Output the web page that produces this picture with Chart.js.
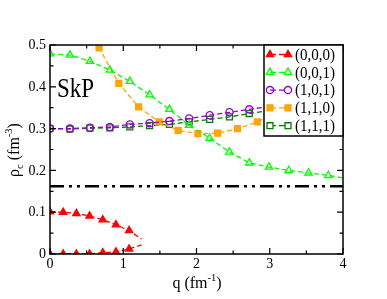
<!DOCTYPE html>
<html>
<head>
<meta charset="utf-8">
<script src="https://cdn.jsdelivr.net/npm/chart.js@4.4.1/dist/chart.umd.min.js"></script>
<style>
  html, body { margin: 0; padding: 0; background: #fff; }
  #wrap { width: 387px; height: 299px; }
</style>
</head>
<body>
<div id="wrap"><canvas id="chart" width="387" height="299"></canvas></div>
<script>
// values
const q000 = [0, 0.18, 0.36, 0.54, 0.72, 0.9, 1.08, 1.25];
const rho000Upper = [0.101, 0.1, 0.097, 0.091, 0.082, 0.07, 0.056, 0.036];
const rho000Lower = [0, 0, 0, 0, 0.003, 0.005, 0.012, 0.022];
const qGrid = [0, 0.272, 0.545, 0.817, 1.09, 1.36, 1.63, 1.9, 2.18, 2.45, 2.72, 2.99, 3.26, 3.53, 3.8, 4.07];
const rho001 = [0.479, 0.476, 0.461, 0.44, 0.413, 0.381, 0.346, 0.308, 0.277, 0.244, 0.218, 0.208, 0.2, 0.194, 0.188, 0.18];
const rho101 = [0.3, 0.3, 0.302, 0.304, 0.31, 0.313, 0.318, 0.324, 0.332, 0.339, 0.346, 0.353, 0.36];
const rho111 = [0.3, 0.299, 0.301, 0.302, 0.304, 0.307, 0.31, 0.316, 0.322, 0.328, 0.336, 0.343, 0.35];
const q110 = [0.4, 0.67, 0.94, 1.21, 1.49, 1.75, 2.02, 2.29, 2.56, 2.83, 3.1];
const rho110 = [0.6, 0.493, 0.408, 0.352, 0.316, 0.296, 0.288, 0.289, 0.3, 0.316, 0.34];
const qRange = [0, 4];
const rhoSat = 0.162;
const xTicks = [0, 1, 2, 3, 4];
const yTicks = [0, 0.1, 0.2, 0.3, 0.4, 0.5];
const yTickLabels = ['0', '0.1', '0.2', '0.3', '0.4', '0.5'];

const FONT = '"Liberation Serif", "DejaVu Serif", serif';

function pts(xs, ys) {
	return ys.map((y, i) => ({ x: xs[i], y: y }));
}

function series(label, data, color, style, filled, extra) {
	return Object.assign({
		label: label,
		data: data,
		showLine: true,
		borderColor: color,
		backgroundColor: filled ? color : '#fff',
		borderWidth: 1.3,
		borderDash: [5, 3],
		pointStyle: style,
		pointRadius: style === 'circle' ? 3.6 : 4.2,
		pointBorderWidth: 1.3,
		pointBorderColor: color,
		pointBackgroundColor: filled ? color : 'rgba(255,255,255,0)',
		tension: 0
	}, extra || {});
}

// last red point is only the end of the curve, no marker
let redRadius = q000.map((q, i) => i === q000.length - 1 ? 0 : 4.2);

let datasets = [
	series('(0,0,0)', pts(q000, rho000Upper), '#ff0000', 'triangle', true, { pointRadius: redRadius }),
	series('', pts(q000, rho000Lower), '#ff0000', 'triangle', true, { pointRadius: redRadius }),
	series('(0,0,1)', pts(qGrid, rho001), '#00ff00', 'triangle', false),
	series('(1,0,1)', pts(qGrid, rho101), '#9400d3', 'circle', false),
	series('(1,1,0)', pts(q110, rho110), '#ffa500', 'rect', true),
	series('(1,1,1)', pts(qGrid, rho111), '#008000', 'rect', false),
	{
		label: '',
		data: pts(qRange, [rhoSat, rhoSat]),
		showLine: true,
		borderColor: '#000',
		borderWidth: 2.5,
		borderDash: [14, 5, 3, 5, 3, 5],
		pointRadius: 0
	}
];

// legend entries point back at datasets
let legendItems = [0, 2, 3, 4, 5];

function richText(ctx, parts, x, y, align) {
	// parts: [text, 'n'|'sub'|'sup']
	let base = 16, small = 10.5;
	let w = 0;
	parts.forEach(p => {
		ctx.font = (p[1] === 'n' ? base : small) + 'px ' + FONT;
		w += ctx.measureText(p[0]).width;
	});
	let cx = align === 'center' ? x - w / 2 : x;
	ctx.textAlign = 'left';
	ctx.textBaseline = 'alphabetic';
	parts.forEach(p => {
		ctx.font = (p[1] === 'n' ? base : small) + 'px ' + FONT;
		let dy = p[1] === 'sub' ? 4 : (p[1] === 'sup' ? -7 : 0);
		ctx.fillText(p[0], cx, y + dy);
		cx += ctx.measureText(p[0]).width;
	});
}

const framePlugin = {
	id: 'frame',
	afterDraw(chart) {
		let ctx = chart.ctx;
		let a = chart.chartArea;
		let xs = chart.scales.x, ys = chart.scales.y;
		ctx.save();
		ctx.strokeStyle = '#000';
		ctx.lineWidth = 1.5;
		ctx.strokeRect(a.left, a.top, a.right - a.left, a.bottom - a.top);

		// inward ticks on all four sides
		ctx.lineWidth = 1.2;
		ctx.beginPath();
		for (let v = 0; v <= 4.001; v += 0.5) {
			let px = xs.getPixelForValue(v);
			let len = Math.abs(v - Math.round(v)) < 1e-6 ? 6 : 3.5;
			ctx.moveTo(px, a.bottom); ctx.lineTo(px, a.bottom - len);
			ctx.moveTo(px, a.top); ctx.lineTo(px, a.top + len);
		}
		for (let v = 0; v <= 0.5001; v += 0.05) {
			let py = ys.getPixelForValue(v);
			let len = Math.abs(v * 10 - Math.round(v * 10)) < 1e-6 ? 6 : 3.5;
			ctx.moveTo(a.left, py); ctx.lineTo(a.left + len, py);
			ctx.moveTo(a.right, py); ctx.lineTo(a.right - len, py);
		}
		ctx.stroke();

		// legend box
		let lx = 264, ly = a.top, lw = a.right - 264, lh = 91;
		ctx.fillStyle = '#fff';
		ctx.fillRect(lx, ly, lw, lh);
		ctx.lineWidth = 1.5;
		ctx.strokeRect(lx, ly, lw, lh);
		legendItems.forEach((di, i) => {
			let ds = chart.data.datasets[di];
			let cy = ly + 9.5 + i * 17.8;
			ctx.save();
			ctx.strokeStyle = ds.borderColor;
			ctx.lineWidth = ds.borderWidth;
			ctx.setLineDash([6, 3]);
			ctx.beginPath();
			ctx.moveTo(270, cy); ctx.lineTo(288, cy);
			ctx.stroke();
			ctx.restore();
			[270, 288].forEach(px => {
				ctx.save();
				ctx.strokeStyle = ds.pointBorderColor;
				ctx.fillStyle = ds.pointStyle === 'rect' && ds.backgroundColor === '#fff' ? '#fff' : ds.pointBackgroundColor;
				ctx.lineWidth = ds.pointBorderWidth;
				Chart.helpers.drawPoint(ctx, {
					pointStyle: ds.pointStyle,
					radius: ds.pointStyle === 'circle' ? 3.6 : 4.2,
					rotation: 0,
					borderWidth: ds.pointBorderWidth
				}, px, cy);
				ctx.restore();
			});
			ctx.save();
			ctx.fillStyle = '#000';
			ctx.font = '16px ' + FONT;
			ctx.textAlign = 'left';
			ctx.textBaseline = 'middle';
			ctx.setTransform(0.94, 0, 0, 1, 295, cy + 1);
			ctx.fillText(ds.label, 0, 0);
			ctx.restore();
		});

		// in-plot label, Times is a touch narrower in the original
		ctx.save();
		ctx.fillStyle = '#000';
		ctx.textAlign = 'left';
		ctx.textBaseline = 'alphabetic';
		ctx.font = '27px ' + FONT;
		ctx.setTransform(0.85, 0, 0, 1, 57, 96.5);
		ctx.fillText('SkP', 0, 0);
		ctx.restore();

		// axis titles with sub/superscripts
		ctx.fillStyle = '#000';
		richText(ctx, [['q (fm', 'n'], ['-1', 'sup'], [')', 'n']], 197, 288, 'center');
		ctx.save();
		ctx.setTransform(1, 0, 0, 1, 0, 0);
		ctx.translate(19, 150);
		ctx.rotate(-Math.PI / 2);
		richText(ctx, [['\u03c1', 'n'], ['c', 'sub'], [' (fm', 'n'], ['-3', 'sup'], [')', 'n']], 0, 0, 'center');
		ctx.restore();

		// y tick labels last, so nothing lies on top of them
		ctx.setTransform(1, 0, 0, 1, 0, 0);
		ctx.fillStyle = '#000';
		ctx.font = '14px ' + FONT;
		ctx.textAlign = 'right';
		ctx.textBaseline = 'middle';
		yTicks.forEach((v, i) => {
			ctx.fillText(yTickLabels[i], a.left - 4, ys.getPixelForValue(v) + 0.5);
		});
		ctx.restore();
	}
};

new Chart(document.getElementById('chart'), {
	type: 'scatter',
	data: { datasets: datasets },
	options: {
		responsive: false,
		animation: false,
		events: [],
		layout: { padding: { top: 45, right: 44, left: 0, bottom: 0 } },
		plugins: { legend: { display: false }, tooltip: { enabled: false } },
		scales: {
			x: {
				type: 'linear',
				min: 0,
				max: 4,
				afterBuildTicks: s => { s.ticks = xTicks.map(v => ({ value: v })); },
				afterFit: s => { s.height = 45; },
				grid: { display: false, drawTicks: false, tickLength: 0 },
				border: { display: false },
				ticks: {
					color: '#000',
					font: { family: FONT, size: 14 },
					padding: 2,
					maxRotation: 0,
					autoSkip: false,
					callback: v => String(v)
				}
			},
			y: {
				type: 'linear',
				min: 0,
				max: 0.5,
				afterFit: s => { s.width = 50; },
				grid: { display: false, drawTicks: false, tickLength: 0 },
				border: { display: false },
				// labels are drawn by the frame plugin
				ticks: { display: false }
			}
		}
	},
	plugins: [framePlugin]
});
</script>
</body>
</html>
